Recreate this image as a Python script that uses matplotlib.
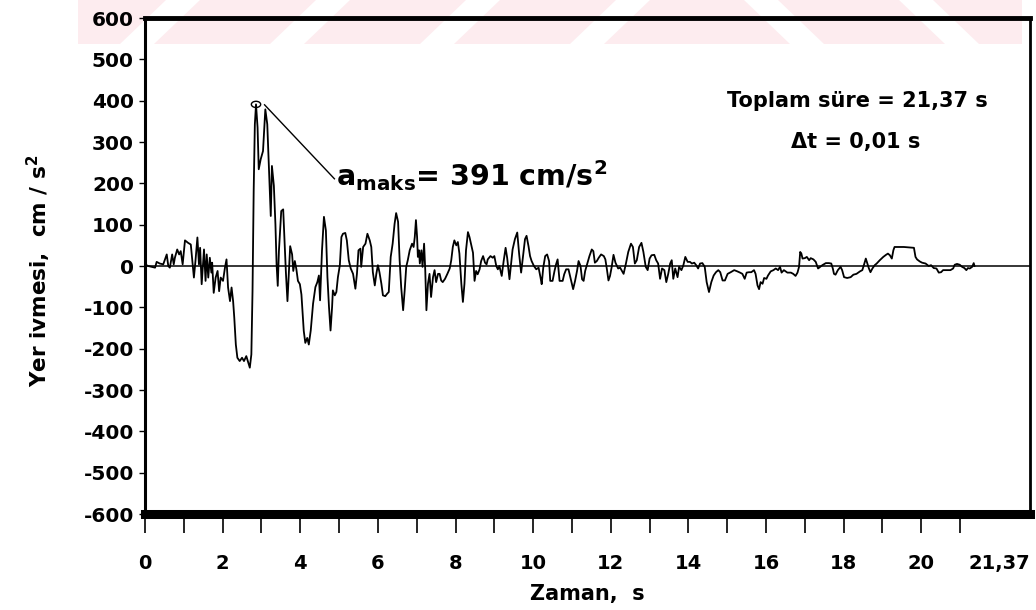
import matplotlib
matplotlib.use("Agg")
import matplotlib.pyplot as plt
from matplotlib.patches import Ellipse, Polygon

plt.rcParams['font.family'] = ['DejaVu Sans']
plt.rcParams['font.weight'] = 'bold'
plt.rcParams['mathtext.fontset'] = 'custom'
plt.rcParams['mathtext.rm'] = 'DejaVu Sans:bold'
plt.rcParams['mathtext.it'] = 'DejaVu Sans:bold'
plt.rcParams['mathtext.bf'] = 'DejaVu Sans:bold'

# --- accelerogram samples (time in s, acceleration in cm/s^2) ---
t_early = [0.0, 0.08, 0.26, 0.30, 0.38, 0.47, 0.56, 0.60, 0.64, 0.70,
           0.74, 0.77, 0.83, 0.88, 0.92, 0.97, 1.03, 1.11, 1.18, 1.26,
           1.30, 1.35, 1.39, 1.42, 1.46, 1.52, 1.56, 1.59, 1.63, 1.67,
           1.71, 1.73, 1.77, 1.82, 1.87, 1.91, 1.95, 2.01, 2.06, 2.10,
           2.14, 2.19, 2.23, 2.27, 2.30, 2.34, 2.38, 2.44, 2.50, 2.55,
           2.61, 2.66, 2.70, 2.74, 2.77, 2.80, 2.83, 2.86, 2.90, 2.93,
           2.98, 3.04, 3.07, 3.10, 3.15, 3.20, 3.24, 3.27, 3.32, 3.36,
           3.39, 3.42, 3.45, 3.51, 3.56, 3.60, 3.63, 3.67, 3.70, 3.74,
           3.79, 3.82, 3.86, 3.90, 3.94, 3.99, 4.03, 4.09, 4.13, 4.18,
           4.22]
a_early = [4, 0, -4, 10, 6, 4, 28, 0, -4, 28,
           4, 20, 40, 28, 36, 4, 62, 56, 52, -28,
           12, 69, 4, 44, -44, 40, -36, 28, -28, 20,
           -16, 8, -65, -28, -12, -61, -28, -36, -4, 16,
           -52, -85, -52, -85, -125, -190, -222, -230, -222, -230,
           -218, -234, -246, -214, -61, 182, 343, 391, 335, 234,
           258, 278, 327, 379, 343, 222, 121, 242, 194, 101,
           4, -48, 36, 133, 137, 52, -16, -85, -28, 48,
           28, -12, 12, -8, -36, -44, -69, -157, -186, -174,
           -190]

t_strong = [4.27, 4.33, 4.39, 4.44, 4.48, 4.51, 4.56, 4.61, 4.66, 4.70,
            4.74, 4.78, 4.82, 4.84, 4.89, 4.93, 4.97, 5.02, 5.06, 5.10,
            5.16, 5.20, 5.25, 5.30, 5.36, 5.42, 5.46, 5.50, 5.55, 5.57,
            5.62, 5.68, 5.73, 5.79, 5.83, 5.87, 5.92, 5.96, 6.00, 6.04,
            6.09, 6.13, 6.19, 6.24, 6.28, 6.33, 6.38, 6.43, 6.47, 6.52,
            6.56, 6.60, 6.65, 6.69, 6.73, 6.77, 6.82, 6.88, 6.92, 6.95,
            6.98, 7.01, 7.03, 7.06, 7.08, 7.12, 7.15, 7.19, 7.22, 7.25,
            7.29, 7.33, 7.37, 7.42, 7.46, 7.50, 7.55, 7.59, 7.63, 7.67,
            7.73, 7.79, 7.85, 7.89, 7.93, 7.97, 8.02, 8.06, 8.10, 8.15,
            8.19, 8.23, 8.27, 8.32, 8.36]
a_strong = [-156, -91, -51, -39, -23, -83, 38, 119, 86, -27,
            -99, -156, -99, -59, -71, -63, -27, 2, 70, 78,
            80, 62, 14, -6, -19, -55, -19, 38, 42, -2,
            46, 54, 78, 62, 46, -15, -47, -19, 2, -15,
            -43, -71, -73, -67, -63, 22, 54, 102, 128, 107,
            14, -51, -107, -59, -2, 14, 38, 54, 46, 70,
            111, 70, 22, 38, 6, 38, -2, 54, -10, -107,
            -43, -19, -75, -27, -10, -39, -19, -19, -35, -39,
            -31, -19, -6, 14, 46, 62, 50, 58, 30, -43,
            -87, -43, 38, 82, 70]

t_mid = [8.45, 8.49, 8.53, 8.57, 8.62, 8.66, 8.71, 8.76, 8.80, 8.83,
         8.90, 8.96, 9.00, 9.05, 9.09, 9.13, 9.19, 9.24, 9.29, 9.33,
         9.39, 9.43, 9.47, 9.53, 9.59, 9.64, 9.69, 9.74, 9.79, 9.83,
         9.88, 9.92, 9.96, 10.02, 10.08, 10.14, 10.19, 10.22, 10.26, 10.31,
         10.36, 10.41, 10.44, 10.50, 10.55, 10.59, 10.63, 10.68, 10.76, 10.80,
         10.85, 10.91, 10.98, 11.03, 11.08, 11.13, 11.17, 11.22, 11.26, 11.30,
         11.34, 11.39, 11.45, 11.51, 11.55, 11.59, 11.64, 11.69, 11.75, 11.82,
         11.86, 11.90, 11.94, 11.98, 12.02, 12.07, 12.12, 12.16, 12.19, 12.24]
a_mid = [32, -36, -12, -20, -8, 12, 24, 8, 4, 16,
         24, 20, 24, 0, -8, 0, -24, 12, 44, 20,
         -32, 4, 40, 65, 81, 28, -16, 24, 65, 73,
         48, 24, 12, 0, -8, -4, -28, -44, -4, 24,
         28, 12, -36, -36, -12, 4, 16, -36, -36, -20,
         -8, -8, -36, -56, -36, -12, 12, 0, -32, -36,
         -12, 4, 24, 40, 36, 8, 12, 20, 28, 24,
         16, -8, -35, -24, -4, 27, 8, 0, -6, -4]

t_late = [12.33, 12.39, 12.45, 12.52, 12.57, 12.62, 12.67, 12.73, 12.79, 12.84,
          12.90, 12.95, 13.00, 13.05, 13.12, 13.17, 13.22, 13.27, 13.32, 13.38,
          13.43, 13.48, 13.53, 13.57, 13.61, 13.66, 13.72, 13.76, 13.82, 13.87,
          13.92, 13.98, 14.04, 14.09, 14.15, 14.20, 14.25, 14.30, 14.36, 14.42,
          14.47, 14.53, 14.59, 14.65, 14.71, 14.77, 14.82, 14.88, 14.94, 15.01,
          15.09, 15.18, 15.26, 15.33, 15.39, 15.45, 15.50, 15.56, 15.62, 15.69,
          15.73, 15.78, 15.82, 15.86, 15.91, 15.95, 16.01, 16.05, 16.12, 16.19,
          16.25, 16.31, 16.36, 16.40, 16.46, 16.55, 16.64, 16.70, 16.76, 16.81,
          16.85, 16.88, 16.91, 16.94, 17.00, 17.05, 17.11, 17.15, 17.22, 17.28,
          17.34]
a_late = [-19, 6, 34, 54, 46, 6, 14, 46, 56, 34,
          -2, -10, 18, 26, 27, 14, 6, -31, -6, -10,
          -39, -19, 6, 14, -31, -6, -27, -2, -10, 2,
          22, 10, 10, 6, 8, 2, -6, 6, 7, -2,
          -39, -63, -39, -23, -15, -10, -15, -35, -35, -19,
          -15, -10, -13, -16, -19, -31, -16, -15, -15, -10,
          -19, -47, -56, -39, -43, -29, -31, -23, -13, -10,
          -6, -10, -2, -16, -10, -16, -16, -19, -24, -16,
          -2, 34, 30, 18, 19, 22, 14, 19, 16, 10,
          -6]

t_tail = [17.45, 17.54, 17.62, 17.68, 17.72, 17.75, 17.79, 17.85, 17.92, 17.96,
          18.01, 18.09, 18.18, 18.25, 18.33, 18.42, 18.48, 18.52, 18.57, 18.61,
          18.65, 18.69, 18.74, 18.80, 18.85, 18.93, 19.02, 19.09, 19.14, 19.19,
          19.24, 19.28, 19.31, 19.55, 19.81, 19.85, 19.89, 19.96, 20.02, 20.11,
          20.19, 20.25, 20.32, 20.39, 20.45, 20.51, 20.56, 20.67, 20.75, 20.82,
          20.86, 20.92, 20.99, 21.05, 21.11, 21.16, 21.20, 21.25, 21.31, 21.35,
          21.37]
a_tail = [2, 7, 7, 6, -6, -19, -21, -10, -2, -10,
          -27, -29, -27, -21, -19, -13, -10, 2, 18, 6,
          -6, -15, -6, 2, 6, 14, 22, 27, 30, 26,
          18, 38, 46, 46, 44, 22, 16, 11, 8, 6,
          0, 2, -5, -6, -16, -15, -10, -10, -10, -6,
          3, 5, 3, -2, -5, -10, -5, -6, -2, 7,
          0]

y_ticks = list(range(-600, 601, 100))
x_major = [0, 2, 4, 6, 8, 10, 12, 14, 16, 18, 20]
x_minor = [1, 3, 5, 7, 9, 11, 13, 15, 17, 19, 21]
total_duration = 21.37
time_step = 0.01

time_s = t_early + t_strong + t_mid + t_late + t_tail
accel = a_early + a_strong + a_mid + a_late + a_tail
i_peak = max(range(len(accel)), key=lambda i: accel[i])
a_max, t_peak = accel[i_peak], time_s[i_peak]

def fmt_tr(v):
    return f"{v:.2f}".replace('.', ',')

W, H = 1036, 610
fig = plt.figure(figsize=(W / 100, H / 100), dpi=100)
ax = fig.add_axes([145 / W, 1 - 514 / H, 885 / W, 496 / H])

# faint pink banner with diagonal white gaps along the top edge
def px(x, y):
    return (x / W, 1 - y / H)

band = Polygon([px(78, 0), px(1022, 0), px(1022, 44), px(78, 44)],
               closed=True, transform=fig.transFigure, facecolor='#fdecef',
               edgecolor='none', zorder=0.3, clip_on=False)
ax.add_patch(band)
for xb in [120, 270, 420, 570]:
    ax.add_patch(Polygon([px(xb, 44), px(xb + 34, 44), px(xb + 80, 0), px(xb + 46, 0)],
                         closed=True, transform=fig.transFigure, facecolor='white',
                         edgecolor='none', zorder=0.4, clip_on=False))
for xb in [790, 945]:
    ax.add_patch(Polygon([px(xb, 44), px(xb + 34, 44), px(xb - 12, 0), px(xb - 46, 0)],
                         closed=True, transform=fig.transFigure, facecolor='white',
                         edgecolor='none', zorder=0.4, clip_on=False))

ax.axhline(0, color='black', lw=1.1, zorder=1.8)
ax.plot(time_s, accel, color='black', lw=1.3, zorder=2)

ax.set_xlim(0, 22.8)
ax.set_ylim(-600, 600)

for side, lw in [('bottom', 6.5), ('top', 3.5), ('left', 2.2), ('right', 2.0)]:
    ax.spines[side].set_linewidth(lw)
    ax.spines[side].set_color('black')

ax.set_yticks(y_ticks)
ax.set_yticklabels([str(v) for v in y_ticks])
ax.set_xticks(x_major + [22.0])
ax.set_xticklabels([str(v) for v in x_major] + [fmt_tr(total_duration)])
ax.set_xticks(x_minor, minor=True)
ax.xaxis.get_major_ticks()[-1].tick1line.set_visible(False)

ax.tick_params(axis='x', which='both', direction='out', length=13.5, width=1.2,
               pad=15, labelsize=14)
ax.tick_params(axis='y', direction='out', length=4, width=1.0, pad=4, labelsize=14.5)

ax.set_xlabel('Zaman,  s', fontsize=15, fontweight='bold')
ax.xaxis.set_label_coords(0.5, (26 - 96) / 496)
ax.xaxis.label.set_va('top')
ax.set_ylabel('Yer ivmesi,  cm / s$^{2}$', fontsize=15.5, fontweight='bold')
ax.yaxis.set_label_coords((53 - 145) / 885, 0.49)

# peak marker and its callout
ax.add_patch(Ellipse((t_peak, a_max), width=0.24, height=15, fill=False,
                     edgecolor='black', lw=1.0, zorder=3))
ax.plot([t_peak + 0.22, 4.88], [a_max - 1, 211], color='black', lw=1.0, zorder=3)
ax.text(4.93, 192, r'$\mathrm{a}_{\mathrm{maks}}$' + f'= {a_max} cm/s' + r'$^{2}$',
        fontsize=20.5, fontweight='bold', ha='left', va='baseline')

ax.text(18.35, 400, f'Toplam süre = {fmt_tr(total_duration)} s',
        fontsize=15, fontweight='bold', ha='center', va='center')
ax.text(18.3, 300, f'Δt = {fmt_tr(time_step)} s',
        fontsize=15, fontweight='bold', ha='center', va='center')

fig.savefig('out.png', dpi=100)
